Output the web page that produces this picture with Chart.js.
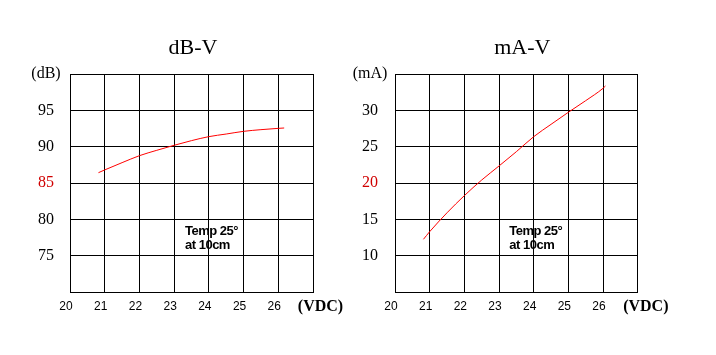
<!DOCTYPE html>
<html>
<head>
<meta charset="utf-8">
<script src="https://cdn.jsdelivr.net/npm/chart.js@4.4.0/dist/chart.umd.min.js"></script>
<style>
  html, body { margin: 0; padding: 0; background: #fff; }
  #wrap { position: relative; width: 716px; height: 355px; background: #fff; overflow: hidden; }
  .box { position: absolute; top: 0; height: 355px; }
</style>
</head>
<body>
<div id="wrap">
  <div class="box" style="left:0;width:358px"><canvas id="c1" width="358" height="355"></canvas></div>
  <div class="box" style="left:330px;width:386px"><canvas id="c2" width="386" height="355"></canvas></div>
</div>
<script>
// ---- data ----
const voltsDb = [20.82, 21, 21.5, 22, 22.5, 23, 23.5, 24, 24.5, 25, 25.5, 26, 26.17];
const dbValues = [86.42, 86.8, 87.8, 88.76, 89.5, 90.19, 90.83, 91.38, 91.74, 92.11, 92.34, 92.52, 92.57];
const voltsMa = [20.82, 21, 21.5, 22, 22.5, 23, 23.5, 24, 24.5, 25, 25.5, 26, 26.07];
const maValues = [12.25, 13.3, 15.9, 18.26, 20.41, 22.34, 24.31, 26.37, 28.07, 29.73, 31.33, 33.03, 33.35];
const xTicks = [20, 21, 22, 23, 24, 25, 26];
const dbTicks = [75, 80, 85, 90, 95];
const maTicks = [10, 15, 20, 25, 30];
const titles = ['dB-V', 'mA-V'];
const yUnits = ['(dB)', '(mA)'];
const xUnit = '(VDC)';
const noteLines = ['Temp 25\u00b0', 'at 10cm'];

const SERIF = '"Liberation Serif", "Times New Roman", serif';
const SANS = '"Liberation Sans", Arial, sans-serif';

function textPlugin(cfg) {
  return {
    id: 'texts' + cfg.key,
    afterDraw(chart) {
      const ctx = chart.ctx;
      ctx.save();
      ctx.fillStyle = '#000';
      ctx.textBaseline = 'alphabetic';
      ctx.font = '22px ' + SERIF;
      ctx.textAlign = 'center';
      ctx.fillText(cfg.title, cfg.titleX, cfg.titleY);
      ctx.font = 'bold 16px ' + SERIF;
      ctx.fillText(xUnit, cfg.unitX, 311);
      ctx.textAlign = 'left';
      ctx.font = 'bold 13px ' + SANS;
      try { ctx.letterSpacing = '-0.5px'; } catch (e) {}
      ctx.fillText(noteLines[0], cfg.noteX, 235);
      ctx.fillText(noteLines[1], cfg.noteX, 248.5);
      ctx.restore();
    }
  };
}

function makeChart(id, xs, ys, yMin, yMax, yTickVals, redVal, unitLabel, yWidth, padRight, yPad, plugin) {
  const pts = xs.map((x, i) => ({ x: x, y: ys[i] }));
  return new Chart(document.getElementById(id), {
    type: 'line',
    data: {
      datasets: [{
        data: pts,
        borderColor: '#ff0000',
        borderWidth: 1,
        pointRadius: 0,
        cubicInterpolationMode: 'monotone',
        fill: false
      }]
    },
    options: {
      responsive: false,
      animation: false,
      layout: { padding: { left: 0, right: padRight, top: 74, bottom: 0 } },
      plugins: { legend: { display: false }, tooltip: { enabled: false }, title: { display: false } },
      scales: {
        x: {
          type: 'linear',
          min: 20, max: 27,
          afterFit: (s) => { s.height = 63; },
          afterBuildTicks: (s) => { s.ticks = xTicks.concat([27]).map(v => ({ value: v })); },
          grid: { color: '#000', lineWidth: 1, drawTicks: false },
          border: { display: true, color: '#000', width: 1 },
          ticks: {
            padding: 7,
            labelOffset: -4,
            color: '#000',
            font: { family: SANS, size: 12 },
            maxRotation: 0,
            callback: (v) => (xTicks.includes(v) ? String(v) : '')
          }
        },
        y: {
          type: 'linear',
          min: yMin, max: yMax,
          afterFit: (s) => { s.width = yWidth; },
          afterBuildTicks: (s) => { s.ticks = [yMin].concat(yTickVals, [yMax]).map(v => ({ value: v })); },
          grid: { color: '#000', lineWidth: 1, drawTicks: false },
          border: { display: true, color: '#000', width: 1 },
          ticks: {
            padding: yPad,
            crossAlign: 'center',
            font: { family: SERIF, size: 16 },
            color: (c) => (c.tick && c.tick.value === redVal ? '#d00000' : '#000'),
            callback: (v) => (v === yMax ? unitLabel : (yTickVals.includes(v) ? String(v) : ''))
          }
        }
      }
    },
    plugins: [plugin]
  });
}

makeChart('c1', voltsDb, dbValues, 70, 100, dbTicks, 85, yUnits[0], 70, 45, 9.3,
  textPlugin({ key: 'a', title: titles[0], titleX: 193, titleY: 54, unitX: 320.5, noteX: 185 }));
makeChart('c2', voltsMa, maValues, 5, 35, maTicks, 20, yUnits[1], 65, 78.3, 7.7,
  textPlugin({ key: 'b', title: titles[1], titleX: 192.3, titleY: 53.5, unitX: 315.8, noteX: 179.3 }));
</script>
</body>
</html>
